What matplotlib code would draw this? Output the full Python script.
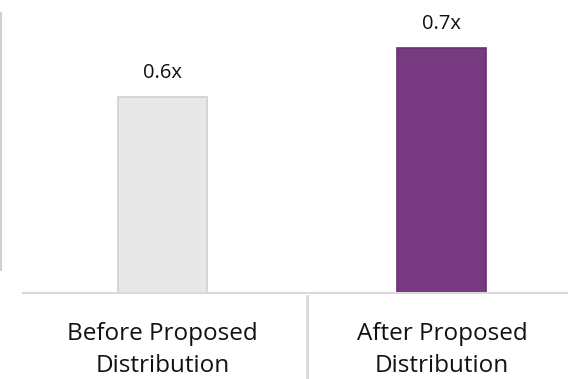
import matplotlib.pyplot as plt
from matplotlib.lines import Line2D

categories = ['Before Proposed\nDistribution', 'After Proposed\nDistribution']
values = [0.6, 0.7]
value_labels = ['0.6x', '0.7x']
fill_colors = ['#E8E8E8', '#773A80']
edge_colors = ['#D0D0D0', '#6A2F72']

plt.rcParams['font.family'] = ['Open Sans', 'DejaVu Sans']

fig = plt.figure(figsize=(5.68, 3.79), dpi=100)
ax = fig.add_axes([0, 86 / 379, 1, 293 / 379])

x = list(range(len(categories)))
bars = ax.bar(x, values, width=0.318, color=fill_colors, edgecolor=edge_colors,
              linewidth=1.2, zorder=2)

for bar, lab in zip(bars, value_labels):
    ax.text(bar.get_x() + bar.get_width() / 2, bar.get_height() + 0.05, lab,
            ha='center', va='center', fontsize=14.5, color='#111111')

ax.set_xlim(-0.581, 1.451)
ax.set_ylim(0.2, 0.2 + 293 / 490)
ax.axis('off')

# baseline and divider between categories
ax.plot([-0.5, 1.451], [0.2, 0.2], color='#D9D9D9', lw=1.5, clip_on=False, zorder=3)
fig.add_artist(Line2D([307 / 568, 307 / 568], [0, 83 / 379], color='#D9D9D9', lw=2))
# stray border on the left edge
fig.add_artist(Line2D([1 / 568, 1 / 568], [1 - 13 / 379, 1 - 270 / 379], color='#D0D0D0', lw=1.5))

for xi, cat in zip(x, categories):
    ax.text(xi, 0.2 - 0.06, cat, ha='center', va='top', fontsize=17.5,
            color='#111111', linespacing=1.4)

fig.savefig('out.png', dpi=100)
